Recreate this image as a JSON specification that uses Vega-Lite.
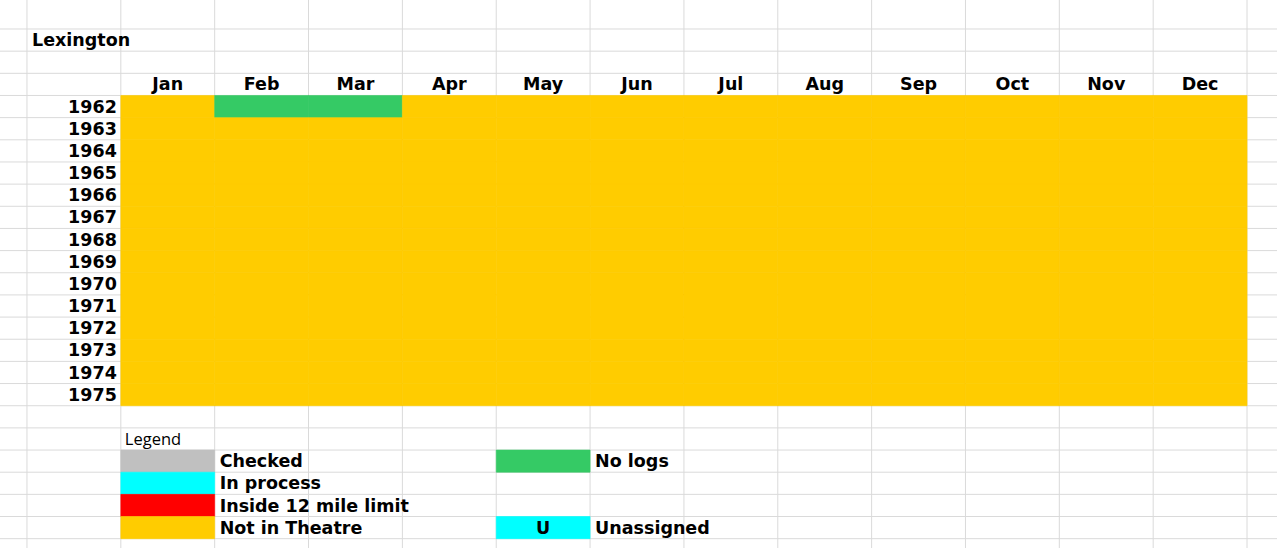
{
 "$schema": "https://vega.github.io/schema/vega-lite/v6.json",
 "width": 1277,
 "height": 548,
 "autosize": {"type": "none"},
 "padding": 0,
 "background": "white",
 "config": {"view": {"stroke": null}},
 "datasets": {
  "cells": [
   {"year":"1962","month":"Jan","status":"Not in Theatre"},{"year":"1962","month":"Feb","status":"No logs"},{"year":"1962","month":"Mar","status":"No logs"},{"year":"1962","month":"Apr","status":"Not in Theatre"},{"year":"1962","month":"May","status":"Not in Theatre"},{"year":"1962","month":"Jun","status":"Not in Theatre"},{"year":"1962","month":"Jul","status":"Not in Theatre"},{"year":"1962","month":"Aug","status":"Not in Theatre"},{"year":"1962","month":"Sep","status":"Not in Theatre"},{"year":"1962","month":"Oct","status":"Not in Theatre"},{"year":"1962","month":"Nov","status":"Not in Theatre"},{"year":"1962","month":"Dec","status":"Not in Theatre"},
   {"year":"1963","month":"Jan","status":"Not in Theatre"},{"year":"1963","month":"Feb","status":"Not in Theatre"},{"year":"1963","month":"Mar","status":"Not in Theatre"},{"year":"1963","month":"Apr","status":"Not in Theatre"},{"year":"1963","month":"May","status":"Not in Theatre"},{"year":"1963","month":"Jun","status":"Not in Theatre"},{"year":"1963","month":"Jul","status":"Not in Theatre"},{"year":"1963","month":"Aug","status":"Not in Theatre"},{"year":"1963","month":"Sep","status":"Not in Theatre"},{"year":"1963","month":"Oct","status":"Not in Theatre"},{"year":"1963","month":"Nov","status":"Not in Theatre"},{"year":"1963","month":"Dec","status":"Not in Theatre"},
   {"year":"1964","month":"Jan","status":"Not in Theatre"},{"year":"1964","month":"Feb","status":"Not in Theatre"},{"year":"1964","month":"Mar","status":"Not in Theatre"},{"year":"1964","month":"Apr","status":"Not in Theatre"},{"year":"1964","month":"May","status":"Not in Theatre"},{"year":"1964","month":"Jun","status":"Not in Theatre"},{"year":"1964","month":"Jul","status":"Not in Theatre"},{"year":"1964","month":"Aug","status":"Not in Theatre"},{"year":"1964","month":"Sep","status":"Not in Theatre"},{"year":"1964","month":"Oct","status":"Not in Theatre"},{"year":"1964","month":"Nov","status":"Not in Theatre"},{"year":"1964","month":"Dec","status":"Not in Theatre"},
   {"year":"1965","month":"Jan","status":"Not in Theatre"},{"year":"1965","month":"Feb","status":"Not in Theatre"},{"year":"1965","month":"Mar","status":"Not in Theatre"},{"year":"1965","month":"Apr","status":"Not in Theatre"},{"year":"1965","month":"May","status":"Not in Theatre"},{"year":"1965","month":"Jun","status":"Not in Theatre"},{"year":"1965","month":"Jul","status":"Not in Theatre"},{"year":"1965","month":"Aug","status":"Not in Theatre"},{"year":"1965","month":"Sep","status":"Not in Theatre"},{"year":"1965","month":"Oct","status":"Not in Theatre"},{"year":"1965","month":"Nov","status":"Not in Theatre"},{"year":"1965","month":"Dec","status":"Not in Theatre"},
   {"year":"1966","month":"Jan","status":"Not in Theatre"},{"year":"1966","month":"Feb","status":"Not in Theatre"},{"year":"1966","month":"Mar","status":"Not in Theatre"},{"year":"1966","month":"Apr","status":"Not in Theatre"},{"year":"1966","month":"May","status":"Not in Theatre"},{"year":"1966","month":"Jun","status":"Not in Theatre"},{"year":"1966","month":"Jul","status":"Not in Theatre"},{"year":"1966","month":"Aug","status":"Not in Theatre"},{"year":"1966","month":"Sep","status":"Not in Theatre"},{"year":"1966","month":"Oct","status":"Not in Theatre"},{"year":"1966","month":"Nov","status":"Not in Theatre"},{"year":"1966","month":"Dec","status":"Not in Theatre"},
   {"year":"1967","month":"Jan","status":"Not in Theatre"},{"year":"1967","month":"Feb","status":"Not in Theatre"},{"year":"1967","month":"Mar","status":"Not in Theatre"},{"year":"1967","month":"Apr","status":"Not in Theatre"},{"year":"1967","month":"May","status":"Not in Theatre"},{"year":"1967","month":"Jun","status":"Not in Theatre"},{"year":"1967","month":"Jul","status":"Not in Theatre"},{"year":"1967","month":"Aug","status":"Not in Theatre"},{"year":"1967","month":"Sep","status":"Not in Theatre"},{"year":"1967","month":"Oct","status":"Not in Theatre"},{"year":"1967","month":"Nov","status":"Not in Theatre"},{"year":"1967","month":"Dec","status":"Not in Theatre"},
   {"year":"1968","month":"Jan","status":"Not in Theatre"},{"year":"1968","month":"Feb","status":"Not in Theatre"},{"year":"1968","month":"Mar","status":"Not in Theatre"},{"year":"1968","month":"Apr","status":"Not in Theatre"},{"year":"1968","month":"May","status":"Not in Theatre"},{"year":"1968","month":"Jun","status":"Not in Theatre"},{"year":"1968","month":"Jul","status":"Not in Theatre"},{"year":"1968","month":"Aug","status":"Not in Theatre"},{"year":"1968","month":"Sep","status":"Not in Theatre"},{"year":"1968","month":"Oct","status":"Not in Theatre"},{"year":"1968","month":"Nov","status":"Not in Theatre"},{"year":"1968","month":"Dec","status":"Not in Theatre"},
   {"year":"1969","month":"Jan","status":"Not in Theatre"},{"year":"1969","month":"Feb","status":"Not in Theatre"},{"year":"1969","month":"Mar","status":"Not in Theatre"},{"year":"1969","month":"Apr","status":"Not in Theatre"},{"year":"1969","month":"May","status":"Not in Theatre"},{"year":"1969","month":"Jun","status":"Not in Theatre"},{"year":"1969","month":"Jul","status":"Not in Theatre"},{"year":"1969","month":"Aug","status":"Not in Theatre"},{"year":"1969","month":"Sep","status":"Not in Theatre"},{"year":"1969","month":"Oct","status":"Not in Theatre"},{"year":"1969","month":"Nov","status":"Not in Theatre"},{"year":"1969","month":"Dec","status":"Not in Theatre"},
   {"year":"1970","month":"Jan","status":"Not in Theatre"},{"year":"1970","month":"Feb","status":"Not in Theatre"},{"year":"1970","month":"Mar","status":"Not in Theatre"},{"year":"1970","month":"Apr","status":"Not in Theatre"},{"year":"1970","month":"May","status":"Not in Theatre"},{"year":"1970","month":"Jun","status":"Not in Theatre"},{"year":"1970","month":"Jul","status":"Not in Theatre"},{"year":"1970","month":"Aug","status":"Not in Theatre"},{"year":"1970","month":"Sep","status":"Not in Theatre"},{"year":"1970","month":"Oct","status":"Not in Theatre"},{"year":"1970","month":"Nov","status":"Not in Theatre"},{"year":"1970","month":"Dec","status":"Not in Theatre"},
   {"year":"1971","month":"Jan","status":"Not in Theatre"},{"year":"1971","month":"Feb","status":"Not in Theatre"},{"year":"1971","month":"Mar","status":"Not in Theatre"},{"year":"1971","month":"Apr","status":"Not in Theatre"},{"year":"1971","month":"May","status":"Not in Theatre"},{"year":"1971","month":"Jun","status":"Not in Theatre"},{"year":"1971","month":"Jul","status":"Not in Theatre"},{"year":"1971","month":"Aug","status":"Not in Theatre"},{"year":"1971","month":"Sep","status":"Not in Theatre"},{"year":"1971","month":"Oct","status":"Not in Theatre"},{"year":"1971","month":"Nov","status":"Not in Theatre"},{"year":"1971","month":"Dec","status":"Not in Theatre"},
   {"year":"1972","month":"Jan","status":"Not in Theatre"},{"year":"1972","month":"Feb","status":"Not in Theatre"},{"year":"1972","month":"Mar","status":"Not in Theatre"},{"year":"1972","month":"Apr","status":"Not in Theatre"},{"year":"1972","month":"May","status":"Not in Theatre"},{"year":"1972","month":"Jun","status":"Not in Theatre"},{"year":"1972","month":"Jul","status":"Not in Theatre"},{"year":"1972","month":"Aug","status":"Not in Theatre"},{"year":"1972","month":"Sep","status":"Not in Theatre"},{"year":"1972","month":"Oct","status":"Not in Theatre"},{"year":"1972","month":"Nov","status":"Not in Theatre"},{"year":"1972","month":"Dec","status":"Not in Theatre"},
   {"year":"1973","month":"Jan","status":"Not in Theatre"},{"year":"1973","month":"Feb","status":"Not in Theatre"},{"year":"1973","month":"Mar","status":"Not in Theatre"},{"year":"1973","month":"Apr","status":"Not in Theatre"},{"year":"1973","month":"May","status":"Not in Theatre"},{"year":"1973","month":"Jun","status":"Not in Theatre"},{"year":"1973","month":"Jul","status":"Not in Theatre"},{"year":"1973","month":"Aug","status":"Not in Theatre"},{"year":"1973","month":"Sep","status":"Not in Theatre"},{"year":"1973","month":"Oct","status":"Not in Theatre"},{"year":"1973","month":"Nov","status":"Not in Theatre"},{"year":"1973","month":"Dec","status":"Not in Theatre"},
   {"year":"1974","month":"Jan","status":"Not in Theatre"},{"year":"1974","month":"Feb","status":"Not in Theatre"},{"year":"1974","month":"Mar","status":"Not in Theatre"},{"year":"1974","month":"Apr","status":"Not in Theatre"},{"year":"1974","month":"May","status":"Not in Theatre"},{"year":"1974","month":"Jun","status":"Not in Theatre"},{"year":"1974","month":"Jul","status":"Not in Theatre"},{"year":"1974","month":"Aug","status":"Not in Theatre"},{"year":"1974","month":"Sep","status":"Not in Theatre"},{"year":"1974","month":"Oct","status":"Not in Theatre"},{"year":"1974","month":"Nov","status":"Not in Theatre"},{"year":"1974","month":"Dec","status":"Not in Theatre"},
   {"year":"1975","month":"Jan","status":"Not in Theatre"},{"year":"1975","month":"Feb","status":"Not in Theatre"},{"year":"1975","month":"Mar","status":"Not in Theatre"},{"year":"1975","month":"Apr","status":"Not in Theatre"},{"year":"1975","month":"May","status":"Not in Theatre"},{"year":"1975","month":"Jun","status":"Not in Theatre"},{"year":"1975","month":"Jul","status":"Not in Theatre"},{"year":"1975","month":"Aug","status":"Not in Theatre"},{"year":"1975","month":"Sep","status":"Not in Theatre"},{"year":"1975","month":"Oct","status":"Not in Theatre"},{"year":"1975","month":"Nov","status":"Not in Theatre"},{"year":"1975","month":"Dec","status":"Not in Theatre"}
  ],
  "legend": [
   {"status":"Checked","col":"Jan","labelcol":"Feb","row":"row1"},
   {"status":"In process","col":"Jan","labelcol":"Feb","row":"row2"},
   {"status":"Inside 12 mile limit","col":"Jan","labelcol":"Feb","row":"row3"},
   {"status":"Not in Theatre","col":"Jan","labelcol":"Feb","row":"row4"},
   {"status":"No logs","col":"May","labelcol":"Jun","row":"row1"},
   {"status":"Unassigned","col":"May","labelcol":"Jun","row":"row4","code":"U"}
  ],
  "hlines": [
   {"row":"title"},{"row":"gap1"},{"row":"header"},{"row":"1962"},{"row":"1963"},{"row":"1964"},{"row":"1965"},{"row":"1966"},{"row":"1967"},{"row":"1968"},{"row":"1969"},{"row":"1970"},{"row":"1971"},{"row":"1972"},{"row":"1973"},{"row":"1974"},{"row":"1975"},{"row":"gap2"},{"row":"legend"},{"row":"row1"},{"row":"row2"},{"row":"row3"},{"row":"row4"}
  ],
  "vlines": [
   {"col":"A"},{"col":"Jan"},{"col":"Feb"},{"col":"Mar"},{"col":"Apr"},{"col":"May"},{"col":"Jun"},{"col":"Jul"},{"col":"Aug"},{"col":"Sep"},{"col":"Oct"},{"col":"Nov"},{"col":"Dec"}
  ]
 },
 "layer": [
  {
   "data": {"name": "hlines"},
   "mark": {"type": "rule", "stroke": "#dadada", "strokeWidth": 1},
   "encoding": {
    "y": {"field": "row", "type": "nominal", "bandPosition": 0, "axis": null,
     "scale": {"type": "band", "round": false, "domain": ["title","gap1","header","1962","1963","1964","1965","1966","1967","1968","1969","1970","1971","1972","1973","1974","1975","gap2","legend","row1","row2","row3","row4"], "paddingInner": 0, "paddingOuter": 0.8646, "align": 0.7568}}
   }
  },
  {
   "data": {"values": [{"row": "row4"}]},
   "mark": {"type": "rule", "stroke": "#dadada", "strokeWidth": 1},
   "encoding": {
    "y": {"field": "row", "type": "nominal", "bandPosition": 1, "axis": null,
     "scale": {"type": "band", "round": false, "domain": ["title","gap1","header","1962","1963","1964","1965","1966","1967","1968","1969","1970","1971","1972","1973","1974","1975","gap2","legend","row1","row2","row3","row4"], "paddingInner": 0, "paddingOuter": 0.8646, "align": 0.7568}}
   }
  },
  {
   "data": {"name": "vlines"},
   "mark": {"type": "rule", "stroke": "#dadada", "strokeWidth": 1},
   "encoding": {
    "x": {"field": "col", "type": "nominal", "bandPosition": 0, "axis": null,
     "scale": {"type": "band", "round": false, "domain": ["A","Jan","Feb","Mar","Apr","May","Jun","Jul","Aug","Sep","Oct","Nov","Dec"], "paddingInner": 0, "paddingOuter": 0.3034, "align": 0.4737}}
   }
  },
  {
   "data": {"values": [{"col": "Dec"}]},
   "mark": {"type": "rule", "stroke": "#dadada", "strokeWidth": 1},
   "encoding": {
    "x": {"field": "col", "type": "nominal", "bandPosition": 1, "axis": null,
     "scale": {"type": "band", "round": false, "domain": ["A","Jan","Feb","Mar","Apr","May","Jun","Jul","Aug","Sep","Oct","Nov","Dec"], "paddingInner": 0, "paddingOuter": 0.3034, "align": 0.4737}}
   }
  },
  {
   "data": {"name": "cells"},
   "mark": {"type": "rect", "strokeWidth": 0.6},
   "encoding": {
    "x": {"field": "month", "type": "nominal", "axis": null,
     "scale": {"type": "band", "round": false, "domain": ["A","Jan","Feb","Mar","Apr","May","Jun","Jul","Aug","Sep","Oct","Nov","Dec"], "paddingInner": 0, "paddingOuter": 0.3034, "align": 0.4737}},
    "y": {"field": "year", "type": "nominal", "axis": null,
     "scale": {"type": "band", "round": false, "domain": ["title","gap1","header","1962","1963","1964","1965","1966","1967","1968","1969","1970","1971","1972","1973","1974","1975","gap2","legend","row1","row2","row3","row4"], "paddingInner": 0, "paddingOuter": 0.8646, "align": 0.7568}},
    "fill": {"field": "status", "type": "nominal", "legend": null,
     "scale": {"domain": ["Checked","In process","Inside 12 mile limit","Not in Theatre","No logs","Unassigned"], "range": ["#c0c0c0","#00ffff","#ff0000","#ffcc00","#35ca65","#00ffff"]}},
    "stroke": {"field": "status", "type": "nominal", "legend": null,
     "scale": {"domain": ["Checked","In process","Inside 12 mile limit","Not in Theatre","No logs","Unassigned"], "range": ["#c0c0c0","#00ffff","#ff0000","#ffcc00","#35ca65","#00ffff"]}}
   }
  },
  {
   "data": {"name": "legend"},
   "mark": {"type": "rect", "strokeWidth": 0.6},
   "encoding": {
    "x": {"field": "col", "type": "nominal", "axis": null,
     "scale": {"type": "band", "round": false, "domain": ["A","Jan","Feb","Mar","Apr","May","Jun","Jul","Aug","Sep","Oct","Nov","Dec"], "paddingInner": 0, "paddingOuter": 0.3034, "align": 0.4737}},
    "y": {"field": "row", "type": "nominal", "axis": null,
     "scale": {"type": "band", "round": false, "domain": ["title","gap1","header","1962","1963","1964","1965","1966","1967","1968","1969","1970","1971","1972","1973","1974","1975","gap2","legend","row1","row2","row3","row4"], "paddingInner": 0, "paddingOuter": 0.8646, "align": 0.7568}},
    "fill": {"field": "status", "type": "nominal", "legend": null,
     "scale": {"domain": ["Checked","In process","Inside 12 mile limit","Not in Theatre","No logs","Unassigned"], "range": ["#c0c0c0","#00ffff","#ff0000","#ffcc00","#35ca65","#00ffff"]}},
    "stroke": {"field": "status", "type": "nominal", "legend": null,
     "scale": {"domain": ["Checked","In process","Inside 12 mile limit","Not in Theatre","No logs","Unassigned"], "range": ["#c0c0c0","#00ffff","#ff0000","#ffcc00","#35ca65","#00ffff"]}}
   }
  },
  {
   "data": {"values": [{"label": "Lexington", "col": "A", "row": "title"}]},
   "mark": {"type": "text", "font": "DejaVu Sans", "fontWeight": "bold", "fontSize": 17.5, "align": "left", "baseline": "alphabetic", "dx": 5, "dy": -5, "color": "#000000"},
   "encoding": {
    "text": {"field": "label"},
    "x": {"field": "col", "type": "nominal", "bandPosition": 0, "axis": null,
     "scale": {"type": "band", "round": false, "domain": ["A","Jan","Feb","Mar","Apr","May","Jun","Jul","Aug","Sep","Oct","Nov","Dec"], "paddingInner": 0, "paddingOuter": 0.3034, "align": 0.4737}},
    "y": {"field": "row", "type": "nominal", "bandPosition": 1, "axis": null,
     "scale": {"type": "band", "round": false, "domain": ["title","gap1","header","1962","1963","1964","1965","1966","1967","1968","1969","1970","1971","1972","1973","1974","1975","gap2","legend","row1","row2","row3","row4"], "paddingInner": 0, "paddingOuter": 0.8646, "align": 0.7568}}
   }
  },
  {
   "data": {"name": "cells"},
   "transform": [{"filter": "datum.year == '1962'"}],
   "mark": {"type": "text", "font": "DejaVu Sans", "fontWeight": "bold", "fontSize": 17.5, "align": "center", "baseline": "alphabetic", "dy": -5, "color": "#000000"},
   "encoding": {
    "text": {"field": "month"},
    "x": {"field": "month", "type": "nominal", "bandPosition": 0.5, "axis": null,
     "scale": {"type": "band", "round": false, "domain": ["A","Jan","Feb","Mar","Apr","May","Jun","Jul","Aug","Sep","Oct","Nov","Dec"], "paddingInner": 0, "paddingOuter": 0.3034, "align": 0.4737}},
    "y": {"datum": "header", "type": "nominal", "bandPosition": 1, "axis": null,
     "scale": {"type": "band", "round": false, "domain": ["title","gap1","header","1962","1963","1964","1965","1966","1967","1968","1969","1970","1971","1972","1973","1974","1975","gap2","legend","row1","row2","row3","row4"], "paddingInner": 0, "paddingOuter": 0.8646, "align": 0.7568}}
   }
  },
  {
   "data": {"name": "cells"},
   "transform": [{"filter": "datum.month == 'Jan'"}],
   "mark": {"type": "text", "font": "DejaVu Sans", "fontWeight": "bold", "fontSize": 17.5, "align": "right", "baseline": "alphabetic", "dx": -4, "dy": -5, "color": "#000000"},
   "encoding": {
    "text": {"field": "year"},
    "x": {"datum": "A", "type": "nominal", "bandPosition": 1, "axis": null,
     "scale": {"type": "band", "round": false, "domain": ["A","Jan","Feb","Mar","Apr","May","Jun","Jul","Aug","Sep","Oct","Nov","Dec"], "paddingInner": 0, "paddingOuter": 0.3034, "align": 0.4737}},
    "y": {"field": "year", "type": "nominal", "bandPosition": 1, "axis": null,
     "scale": {"type": "band", "round": false, "domain": ["title","gap1","header","1962","1963","1964","1965","1966","1967","1968","1969","1970","1971","1972","1973","1974","1975","gap2","legend","row1","row2","row3","row4"], "paddingInner": 0, "paddingOuter": 0.8646, "align": 0.7568}}
   }
  },
  {
   "data": {"values": [{"label": "Legend", "col": "Jan", "row": "legend"}]},
   "mark": {"type": "text", "font": "Open Sans", "fontSize": 16.5, "align": "left", "baseline": "alphabetic", "dx": 4, "dy": -5, "color": "#000000"},
   "encoding": {
    "text": {"field": "label"},
    "x": {"field": "col", "type": "nominal", "bandPosition": 0, "axis": null,
     "scale": {"type": "band", "round": false, "domain": ["A","Jan","Feb","Mar","Apr","May","Jun","Jul","Aug","Sep","Oct","Nov","Dec"], "paddingInner": 0, "paddingOuter": 0.3034, "align": 0.4737}},
    "y": {"field": "row", "type": "nominal", "bandPosition": 1, "axis": null,
     "scale": {"type": "band", "round": false, "domain": ["title","gap1","header","1962","1963","1964","1965","1966","1967","1968","1969","1970","1971","1972","1973","1974","1975","gap2","legend","row1","row2","row3","row4"], "paddingInner": 0, "paddingOuter": 0.8646, "align": 0.7568}}
   }
  },
  {
   "data": {"name": "legend"},
   "mark": {"type": "text", "font": "DejaVu Sans", "fontWeight": "bold", "fontSize": 17.5, "align": "left", "baseline": "alphabetic", "dx": 5, "dy": -5, "color": "#000000"},
   "encoding": {
    "text": {"field": "status"},
    "x": {"field": "labelcol", "type": "nominal", "bandPosition": 0, "axis": null,
     "scale": {"type": "band", "round": false, "domain": ["A","Jan","Feb","Mar","Apr","May","Jun","Jul","Aug","Sep","Oct","Nov","Dec"], "paddingInner": 0, "paddingOuter": 0.3034, "align": 0.4737}},
    "y": {"field": "row", "type": "nominal", "bandPosition": 1, "axis": null,
     "scale": {"type": "band", "round": false, "domain": ["title","gap1","header","1962","1963","1964","1965","1966","1967","1968","1969","1970","1971","1972","1973","1974","1975","gap2","legend","row1","row2","row3","row4"], "paddingInner": 0, "paddingOuter": 0.8646, "align": 0.7568}}
   }
  },
  {
   "data": {"name": "legend"},
   "transform": [{"filter": "datum.code != null"}],
   "mark": {"type": "text", "font": "DejaVu Sans", "fontWeight": "bold", "fontSize": 17.5, "align": "center", "baseline": "alphabetic", "dy": -5, "color": "#000000"},
   "encoding": {
    "text": {"field": "code"},
    "x": {"field": "col", "type": "nominal", "bandPosition": 0.5, "axis": null,
     "scale": {"type": "band", "round": false, "domain": ["A","Jan","Feb","Mar","Apr","May","Jun","Jul","Aug","Sep","Oct","Nov","Dec"], "paddingInner": 0, "paddingOuter": 0.3034, "align": 0.4737}},
    "y": {"field": "row", "type": "nominal", "bandPosition": 1, "axis": null,
     "scale": {"type": "band", "round": false, "domain": ["title","gap1","header","1962","1963","1964","1965","1966","1967","1968","1969","1970","1971","1972","1973","1974","1975","gap2","legend","row1","row2","row3","row4"], "paddingInner": 0, "paddingOuter": 0.8646, "align": 0.7568}}
   }
  }
 ]
}
